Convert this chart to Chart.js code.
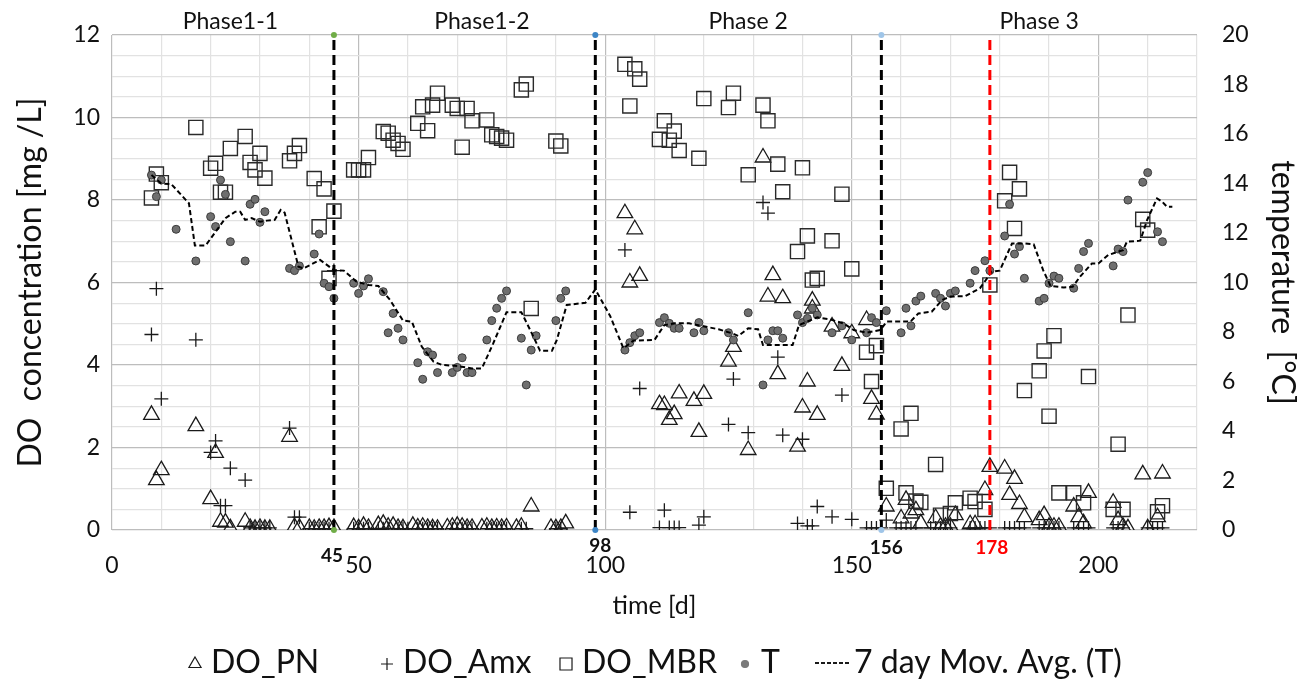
<!DOCTYPE html>
<html>
<head>
<meta charset="utf-8">
<script src="https://cdn.jsdelivr.net/npm/chart.js@4.4.0/dist/chart.umd.min.js"></script>
<style>
  html, body { margin: 0; padding: 0; background: #fff; }
</style>
</head>
<body>
<canvas id="doChart" width="1311" height="682"></canvas>
<script>
// [day, DO mg/L]
const doPN = [
  [8,2.79],[9,1.21],[10,1.45],[17,2.52],[20,0.75],[21,1.87],[22,0.2],[23,0.18],[24,0.04],[27,0.2],
  [28,0.05],[29,0.03],[30,0.05],[31,0.03],[32,0.03],[36,2.26],[37,0.07],[38,0.05],[40,0.05],[41,0.03],
  [42,0.05],[43,0.05],[44,0.07],[45,0.05],[49,0.07],[50,0.04],[51,0.1],[52,0.05],[54,0.12],[55,0.15],
  [56,0.08],[57,0.1],[58,0.05],[59,0.04],[61,0.1],[62,0.06],[63,0.08],[64,0.05],[65,0.04],[66,0.03],
  [68,0.06],[69,0.08],[70,0.1],[71,0.08],[72,0.05],[73,0.05],[75,0.06],[76,0.08],[77,0.05],[78,0.06],
  [79,0.05],[80,0.06],[82,0.05],[83,0.08],[85,0.57],[89,0.05],[90,0.04],[91,0.05],[92,0.16],
  [104,7.68],[105,6.0],[106,7.29],[107,6.16],[111,3.05],[112,3.03],[113,2.67],[114,2.81],[115,3.31],
  [118,3.13],[119,2.38],[120,3.3],[125,4.08],[126,4.44],[129,1.94],[132,9.03],[133,5.66],[134,6.18],
  [135,3.78],[136,5.62],[139,2.02],[140,2.97],[141,3.6],[142,5.56],[142,5.37],[143,2.79],[146,4.93],
  [148,3.98],[150,4.77],[153,5.09],[154,3.18],[155,2.8],
  [157,0.57],[160,0.28],[161,0.73],[162,0.4],[163,0.48],[164,0.16],[167,0.29],[168,0.08],[169,0.08],
  [170,0.08],[171,0.36],[174,0.14],[175,0.14],[177,0.97],[178,1.53],[181,1.49],[182,0.85],[183,1.24],
  [184,0.63],[185,0.31],[188,0.24],[189,0.36],[190,0.08],[191,0.08],[192,0.08],[195,0.57],[196,0.31],
  [197,0.16],[198,0.9],[203,0.66],[204,0.24],[205,0.08],[206,0.04],[209,1.35],[210,0.04],[212,0.31],[213,1.37]
];

const doAmx = [
  [8,4.74],[9,5.85],[10,3.18],[17,4.61],[20,1.88],[21,2.16],[22,0.59],[23,0.59],[24,1.5],[27,1.21],
  [28,0.05],[29,0.05],[30,0.05],[31,0.05],[32,0.05],[36,2.47],[37,0.31],[38,0.31],[40,0.03],[41,0.03],
  [42,0.03],[43,0.03],[44,0.03],[45,6.29],[49,0.03],[50,0.03],[51,0.03],[52,0.03],[54,0.03],[55,0.03],
  [56,0.03],[58,0.03],[59,0.03],[60,0.03],[62,0.03],[63,0.03],[64,0.03],[65,0.03],[66,0.03],[69,0.03],
  [70,0.03],[71,0.03],[72,0.03],[73,0.03],[76,0.03],[77,0.03],[78,0.03],[79,0.03],[80,0.03],[83,0.03],
  [84,0.03],[90,0.03],[91,0.03],
  [104,6.79],[105,0.43],[107,3.43],[111,0.06],[112,0.48],[113,0.06],[114,0.06],[115,0.06],[119,0.12],
  [120,0.32],[125,2.56],[126,3.66],[129,2.36],[132,7.94],[133,7.68],[135,4.19],[136,2.3],[139,0.16],
  [140,2.2],[141,0.1],[142,0.1],[143,0.57],[146,0.32],[148,3.27],[150,0.26],[153,0.05],[154,0.05],
  [155,0.05],[156,0.05],[157,0.24],
  [159,0.05],[160,0.05],[161,0.05],[162,0.05],[163,0.05],[166,0.05],[167,0.05],[168,0.05],[169,0.05],
  [170,0.05],[174,0.05],[175,0.05],[176,0.05],[177,0.05],[178,0.05],[181,0.05],[182,0.05],[183,0.05],
  [184,0.05],[185,0.05],[188,0.05],[189,0.05],[190,0.05],[191,0.05],[192,0.05],[195,0.05],[196,0.05],
  [197,0.05],[198,0.05],[203,0.05],[204,0.05],[205,0.05],[210,0.05],[211,0.05],[212,0.05],[213,0.05]
];

const doMBR = [
  [8,8.05],[9,8.63],[10,8.42],[17,9.76],[20,8.77],[21,8.89],[22,8.19],[23,8.19],[24,9.25],[27,9.54],
  [28,8.91],[29,8.73],[30,9.13],[31,8.53],[36,8.95],[37,9.13],[38,9.32],[41,8.52],[42,7.35],[43,8.27],
  [44,6.1],[45,7.73],[49,8.73],[50,8.73],[51,8.73],[52,9.03],[55,9.66],[56,9.62],[57,9.45],[58,9.37],
  [59,9.23],[62,9.86],[63,10.26],[64,9.68],[65,10.3],[66,10.59],[69,10.3],[70,10.22],[71,9.28],[72,10.22],
  [73,9.92],[76,9.94],[77,9.58],[78,9.54],[79,9.5],[80,9.45],[83,10.67],[84,10.81],[85,5.37],[90,9.43],[91,9.31],
  [104,11.29],[105,10.28],[106,11.18],[107,10.93],[111,9.47],[112,9.92],[113,9.45],[114,9.67],[115,9.2],
  [119,9.01],[120,10.46],[125,10.24],[126,10.59],[129,8.61],[132,10.3],[133,9.92],[135,8.87],[136,8.2],
  [139,6.75],[140,8.78],[141,7.13],[142,6.06],[143,6.1],[146,7.01],[148,8.14],[150,6.33],[153,4.31],
  [154,3.6],[155,4.47],
  [157,1.01],[160,2.45],[161,0.9],[162,2.83],[163,0.7],[164,0.67],[167,1.59],[168,0.36],[170,0.4],
  [171,0.66],[174,0.77],[175,0.69],[177,0.5],[178,5.94],[181,7.98],[182,8.67],[183,7.31],[184,8.27],
  [185,3.38],[188,3.86],[189,4.34],[190,2.76],[191,4.71],[192,0.9],[195,0.9],[197,0.66],[198,3.72],
  [203,0.5],[204,2.08],[205,0.5],[206,5.21],[209,7.53],[210,7.27],[212,0.44],[213,0.59]
];

// [day, temperature °C]
const tempT = [
  [8,14.34],[9,13.47],[10,14.14],[13,12.15],[17,10.87],[20,12.66],[21,12.26],[22,14.14],[23,13.56],
  [24,11.65],[27,10.87],[28,13.16],[29,13.36],[30,12.43],[31,12.86],[36,10.57],[37,10.48],[38,10.67],
  [41,11.15],[42,11.96],[43,9.97],[44,9.83],[45,9.36],[49,9.97],[50,9.56],[51,9.86],[52,10.15],[55,9.63],
  [56,7.97],[57,8.75],[58,8.15],[59,7.68],[62,6.76],[63,6.09],[64,7.2],[65,7.07],[66,6.36],[69,6.36],
  [70,6.57],[71,6.96],[72,6.36],[73,6.36],[76,7.68],[77,8.46],[78,8.96],[79,9.36],[80,9.66],[83,7.75],
  [84,5.86],[85,7.27],[86,7.85],[90,8.46],[91,9.36],[92,9.66],
  [104,7.27],[105,7.57],[106,7.85],[107,7.97],[111,8.38],[112,8.58],[113,8.35],[114,8.15],[115,8.15],
  [118,7.97],[119,8.38],[120,8.05],[125,7.97],[126,7.68],[129,8.78],[132,5.86],[133,7.68],[134,8.05],
  [135,8.05],[136,7.75],[139,8.69],[140,8.38],[141,8.55],[142,8.96],[143,8.69],[146,7.97],[148,8.25],
  [150,7.68],[153,7.97],[154,8.58],[155,8.38],
  [157,8.86],[160,7.97],[161,8.96],[162,8.25],[163,9.25],[164,9.45],[167,9.56],[168,9.36],[169,9.05],
  [170,9.56],[171,9.66],[174,9.97],[175,10.48],[177,10.88],[178,10.48],[181,11.88],[182,13.16],
  [183,11.15],[184,11.45],[185,10.17],[188,9.25],[189,9.36],[190,9.97],[191,10.26],[192,10.17],
  [195,9.77],[196,10.57],[197,11.25],[198,11.58],[203,10.67],[204,11.35],[205,11.25],[206,13.33],
  [209,14.05],[210,14.44],[212,12.05],[213,11.65]
];

// 7 day moving average of T
const tempMovAvg = [
  [8,14.34],[10,14.0],[12,13.98],[15.6,13.2],[16.8,11.5],[19,11.5],[21,12.05],[23,12.6],[25,12.86],
  [26,12.86],[27,12.53],[28.3,12.6],[30,12.46],[31.4,12.5],[33,12.53],[34.2,12.93],[35,12.82],
  [37.8,10.64],[38.8,10.57],[42.2,10.91],[45,10.5],[47,10.48],[49.6,10.03],[52,9.9],[54,9.86],
  [56.4,9.29],[59,8.46],[60.8,8.42],[62.8,7.41],[65.2,6.8],[66.9,6.67],[70,6.63],[73,6.53],[75,6.53],
  [77.3,7.54],[80,8.8],[83,8.8],[84.8,8.08],[86.8,7.24],[89.2,7.24],[90.2,7.68],[92.2,9.09],[95,9.16],
  [96,9.18],[98,9.72],[101,8.65],[103.7,7.34],[105.7,7.65],[110,7.68],[112,8.28],[114,8.35],[117,8.35],
  [123,8.11],[125.7,7.95],[127,7.84],[129,8.15],[131,8.11],[132,7.47],[134.8,7.47],[138,7.47],
  [139.3,8.28],[143,8.59],[145.6,8.51],[148.3,8.35],[150.4,8.08],[153,7.97],[155.8,8.08],[157.1,8.42],
  [161.9,8.42],[163.5,8.75],[166.2,8.82],[168.3,9.29],[170,9.43],[173,9.45],[176,9.77],[178.4,10.44],
  [180,10.48],[182.5,11.58],[184.8,11.58],[186.9,11.54],[188.8,10.5],[190.3,9.86],[193,9.8],
  [194.8,9.83],[196.3,10.24],[198.7,10.77],[200,10.77],[202,11.11],[205,11.31],[205.8,11.65],
  [208.5,11.69],[209.9,12.53],[211.9,13.4],[212.9,13.27],[213.9,13.06],[215,13.06]
];

const phaseNames = ['Phase1-1', 'Phase1-2', 'Phase 2', 'Phase 3'];
const phaseMidDays = [24, 75, 129, 188];
const switchDays = [45, 98, 156, 178];

const xTickLabels = [0, 50, 100, 150, 200];
const doTickLabels = [0, 2, 4, 6, 8, 10, 12];
const tempTickLabels = [0, 2, 4, 6, 8, 10, 12, 14, 16, 18, 20];

// ---- styles ----
const FONT = 'Lato, "Open Sans", sans-serif';
Chart.defaults.font.family = FONT;
Chart.defaults.color = '#111';

const switchStyle = [
  { color: '#000', dot: '#70ad47', dy: 26, dx: -2 },
  { color: '#000', dot: '#3d85c6', dy: 16, dx: 5 },
  { color: '#000', dot: '#9fc5e8', dy: 18, dx: 5 },
  { color: '#ff0000', dot: null, dy: 18, dx: 2 }
];

const toXY = arr => arr.map(p => ({ x: p[0], y: p[1] }));

const switchSets = switchDays.map((d, i) => ({
  label: 'switch ' + d,
  data: [{ x: d, y: 0 }, { x: d, y: 12 }],
  showLine: true,
  clip: false,
  borderColor: switchStyle[i].color,
  borderWidth: 3,
  borderDash: [10, 5],
  pointRadius: switchStyle[i].dot ? 3 : 0,
  pointBackgroundColor: switchStyle[i].dot || 'transparent',
  pointBorderWidth: 0,
  yAxisID: 'y',
  order: 0
}));

const datasets = [
  {
    label: 'DO_PN', data: toXY(doPN), yAxisID: 'y',
    pointStyle: 'triangle', pointRadius: 9, borderWidth: 1.3,
    borderColor: '#1a1a1a', backgroundColor: 'rgba(0,0,0,0)', order: 5
  },
  {
    label: 'DO_Amx', data: toXY(doAmx), yAxisID: 'y',
    pointStyle: 'cross', pointRadius: 7, borderWidth: 1.3,
    borderColor: '#1a1a1a', backgroundColor: 'rgba(0,0,0,0)', order: 4
  },
  {
    label: 'DO_MBR', data: toXY(doMBR), yAxisID: 'y',
    pointStyle: 'rect', pointRadius: 10, borderWidth: 1.4,
    borderColor: '#2a2a2a', backgroundColor: 'rgba(0,0,0,0)', order: 3
  },
  {
    label: 'T', data: toXY(tempT), yAxisID: 'y1',
    pointStyle: 'circle', pointRadius: 4, borderWidth: 1,
    borderColor: '#3c3c3c', backgroundColor: '#6f6f6f', order: 2
  },
  {
    label: '7 day Mov. Avg. (T)', data: toXY(tempMovAvg), yAxisID: 'y1',
    showLine: true, pointRadius: 0, borderColor: '#000', borderWidth: 2,
    borderDash: [5, 3], order: 1
  },
  ...switchSets
];

const legendMarks = [
  { text: 'DO_PN', style: 'triangle', r: 7, x: 195 },
  { text: 'DO_Amx', style: 'cross', r: 6, x: 387 },
  { text: 'DO_MBR', style: 'rect', r: 8.5, x: 566 },
  { text: 'T', style: 'circle', r: 3.5, x: 745, fill: '#7a7a7a' },
  { text: '7 day Mov. Avg. (T)', style: 'line', x: 815 }
];

const overlayText = {
  id: 'overlayText',
  afterDraw(chart) {
    const { ctx, chartArea, scales } = chart;
    const xs = scales.x;
    ctx.save();
    // phase names above plot
    ctx.font = '23px ' + FONT;
    ctx.fillStyle = '#111';
    ctx.textAlign = 'center';
    ctx.textBaseline = 'middle';
    phaseNames.forEach((name, i) => {
      ctx.fillText(name, xs.getPixelForValue(phaseMidDays[i]), chartArea.top - 13);
    });
    // switch day labels under the axis
    ctx.font = 'bold 19px ' + FONT;
    switchDays.forEach((d, i) => {
      const st = switchStyle[i];
      ctx.fillStyle = st.color === '#000' ? '#111' : st.color;
      ctx.fillText(String(d), xs.getPixelForValue(d) + st.dx, chartArea.bottom + st.dy);
    });
    // legend
    const ly = 663;
    ctx.font = '32px ' + FONT;
    ctx.textAlign = 'left';
    legendMarks.forEach(m => {
      ctx.strokeStyle = '#1a1a1a';
      ctx.lineWidth = 1.2;
      if (m.style === 'line') {
        ctx.beginPath();
        ctx.setLineDash([4, 2]);
        ctx.lineWidth = 2;
        ctx.moveTo(m.x, ly);
        ctx.lineTo(m.x + 35, ly);
        ctx.stroke();
        ctx.setLineDash([]);
        ctx.fillStyle = '#111';
        ctx.fillText(m.text, m.x + 39, ly);
        return;
      }
      ctx.fillStyle = m.fill || 'rgba(0,0,0,0)';
      if (m.fill) ctx.strokeStyle = '#7a7a7a';
      Chart.helpers.drawPoint(ctx, { pointStyle: m.style, radius: m.r, borderWidth: 1.2, rotation: 0 }, m.x, ly + 1);
      ctx.fillStyle = '#111';
      ctx.fillText(m.text, m.x + 16, ly);
    });
    ctx.restore();
  }
};

// fixed axis box sizes so the plot area lands where the original has it
const fixVertical = w => s => { s.width = w; s.paddingTop = 0; s.paddingBottom = 0; };

new Chart(document.getElementById('doChart'), {
  type: 'scatter',
  data: { datasets },
  options: {
    responsive: false,
    animation: false,
    events: [],
    layout: { padding: { top: 35, bottom: 52, left: 0, right: 0 } },
    plugins: { legend: { display: false }, tooltip: { enabled: false } },
    scales: {
      x: {
        type: 'linear', min: 0, max: 220,
        afterFit: s => { s.height = 100; s.paddingLeft = 0; s.paddingRight = 0; },
        border: { display: false },
        grid: {
          drawTicks: false, lineWidth: 1.2,
          color: c => (c.tick && c.tick.value % 50 === 0) ? '#bdbdbd' : '#e2e2e2'
        },
        ticks: {
          stepSize: 10, autoSkip: false, maxRotation: 0, padding: 22,
          font: { size: 23 }, color: '#111',
          callback: v => xTickLabels.includes(v) ? String(v) : ''
        },
        title: { display: true, text: 'time [d]', font: { size: 25 }, color: '#111', padding: { top: 0, bottom: 9 } }
      },
      y: {
        position: 'left', min: 0, max: 12,
        afterFit: fixVertical(112),
        border: { display: false },
        grid: {
          drawTicks: false, lineWidth: 1.2,
          color: c => (c.tick && c.tick.value % 2 === 0) ? '#bdbdbd' : '#e2e2e2'
        },
        ticks: {
          stepSize: 0.5, autoSkip: false, padding: 12,
          font: { size: 23 }, color: '#111',
          callback: v => doTickLabels.includes(v) ? String(v) : ''
        },
        title: { display: true, text: 'DO  concentration [mg /L]', font: { size: 32 }, color: '#111', padding: { top: 11, bottom: 0 } }
      },
      y1: {
        position: 'right', min: 0, max: 20,
        afterFit: fixVertical(114),
        border: { display: false },
        grid: { display: false, drawTicks: false },
        ticks: {
          stepSize: 2, autoSkip: false, padding: 25,
          font: { size: 23 }, color: '#111',
          callback: v => tempTickLabels.includes(v) ? String(v) : ''
        },
        title: { display: true, text: 'temperature  [°C]', font: { size: 32 }, color: '#111', padding: { top: 9, bottom: 0 } }
      }
    }
  },
  plugins: [overlayText]
});
</script>
</body>
</html>
